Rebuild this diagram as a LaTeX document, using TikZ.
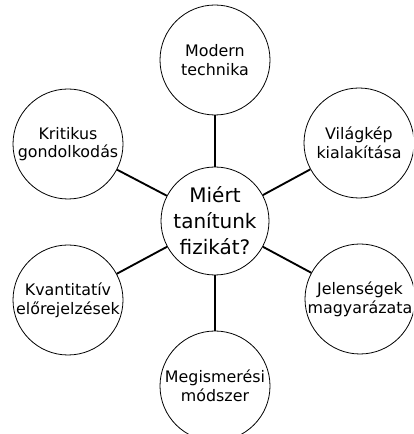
\documentclass[tikz,border=0pt]{standalone}
\usepackage{fontspec}
\setmainfont{DejaVu Sans}
\tikzset{
  bubble/.style={circle, draw, line width=.6pt, minimum size=82.5pt, inner sep=-2pt, align=center, font=\fontsize{11.9}{14}\selectfont},
  hub/.style={circle, draw, line width=.6pt, minimum size=81pt, inner sep=-1pt, align=center, font=\fontsize{15}{19.5}\selectfont},
  spoke/.style={line width=1.4pt}
}

\begin{document}
\begin{tikzpicture}[x=.75pt,y=.75pt]
	% frame
	\clip (0,0) rectangle (413,434);
	% center
	\node[hub] (why) at (215,213) {Miért\\tanítunk\\fizikát?};
	
	% outer circles
	\node[bubble] (modern) at (215,374) {Modern\\technika};
	\node[bubble] (vilag) at (359,291) {Világkép\\kialakítása};
	\node[bubble] (jelen) at (360,135) {Jelenségek\\magyarázata};
	\node[bubble] (megism) at (215,48) {Megismerési\\módszer};
	\node[bubble] (kvant) at (68,134) {Kvantitatív\\előrejelzések};
	\node[bubble] (krit) at (68,290) {Kritikus\\gondolkodás};
	
	% spokes
	\foreach \n in {modern,vilag,jelen,megism,kvant,krit}
		\draw[spoke] (why) -- (\n);
\end{tikzpicture}
\end{document}
